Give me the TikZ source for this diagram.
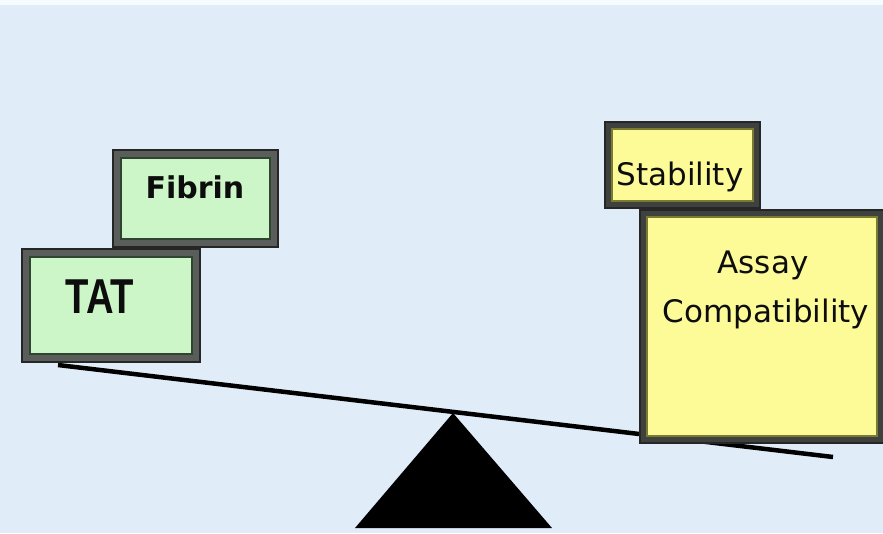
\documentclass[tikz,border=0pt]{standalone}
\usepackage{fontspec}
\newfontfamily\lblfont{DejaVu Sans}
\newfontfamily\tatfont[FakeStretch=0.78]{Liberation Sans}
\definecolor{bgblue}{HTML}{E0ECF8}
\definecolor{topwhite}{HTML}{F6FBFD}
\definecolor{greenfill}{HTML}{CCF5C8}
\definecolor{yellowfill}{HTML}{FDFB98}
\definecolor{framegray}{HTML}{5A5E5A}
\definecolor{framedark}{HTML}{3E413E}
\definecolor{greenline}{HTML}{2F452F}
\definecolor{yellowline}{HTML}{7A7A30}
\begin{document}
\begin{tikzpicture}[x=1pt,y=-1pt,
  outerbox/.style={rectangle, draw=black!85, line width=2pt, inner sep=0pt, outer sep=0pt},
  greenouter/.style={outerbox, fill=framegray},
  yellowouter/.style={outerbox, fill=framedark},
  greeninner/.style={rectangle, fill=greenfill, draw=greenline, line width=1.2pt, inner sep=0pt},
  yellowinner/.style={rectangle, fill=yellowfill, draw=yellowline, line width=1.2pt, inner sep=0pt},
  lbl/.style={inner sep=0pt, anchor=base, text=black!95, font=\lblfont\fontsize{31}{37}\selectfont},
  blbl/.style={lbl, font=\lblfont\bfseries\fontsize{30}{36}\selectfont}
]
% background
\fill[bgblue] (0,0) rectangle (883,533);
\fill[topwhite] (0,0) rectangle (883,5);
\useasboundingbox (0,0) rectangle (883,533);

% beam and fulcrum
\coordinate (beamL) at (58,365);
\coordinate (beamR) at (833,457);
\coordinate (apex) at (453,413);
\coordinate (baseL) at (355,528);
\coordinate (baseR) at (552,528);
\fill[black] (apex) -- (baseR) -- (baseL) -- cycle;
\draw[line width=4.5pt, black] (beamL) -- (beamR);

% Fibrin box
\node[greenouter, minimum width=165pt, minimum height=97pt] (fibrinOuter) at (195.5,198.5) {};
\node[greeninner, minimum width=149pt, minimum height=81pt] (fibrinInner) at (fibrinOuter.center) {};
\node[blbl] (fibrin) at (195,198) {Fibrin};

% TAT box
\node[greenouter, minimum width=178pt, minimum height=113pt] (tatOuter) at (111,305.5) {};
\node[greeninner, minimum width=162pt, minimum height=97pt] (tatInner) at (tatOuter.center) {};
\node[lbl, font=\tatfont\bfseries\fontsize{49}{55}\selectfont] (tat) at (100,313) {TAT};

% Stability box
\node[yellowouter, minimum width=155pt, minimum height=86pt] (stabOuter) at (682.5,165) {};
\node[yellowinner, minimum width=141pt, minimum height=72pt] (stabInner) at (stabOuter.center) {};
\node[lbl] (stab) at (680,185) {Stability};

% Assay Compatibility box
\node[yellowouter, minimum width=244pt, minimum height=233pt] (assayOuter) at (762,326.5) {};
\node[yellowinner, minimum width=230pt, minimum height=219pt] (assayInner) at (assayOuter.center) {};
\node[lbl] (assay) at (763,273) {Assay};
\node[lbl] (compat) at (766,322) {Compatibility};
\end{tikzpicture}
\end{document}
